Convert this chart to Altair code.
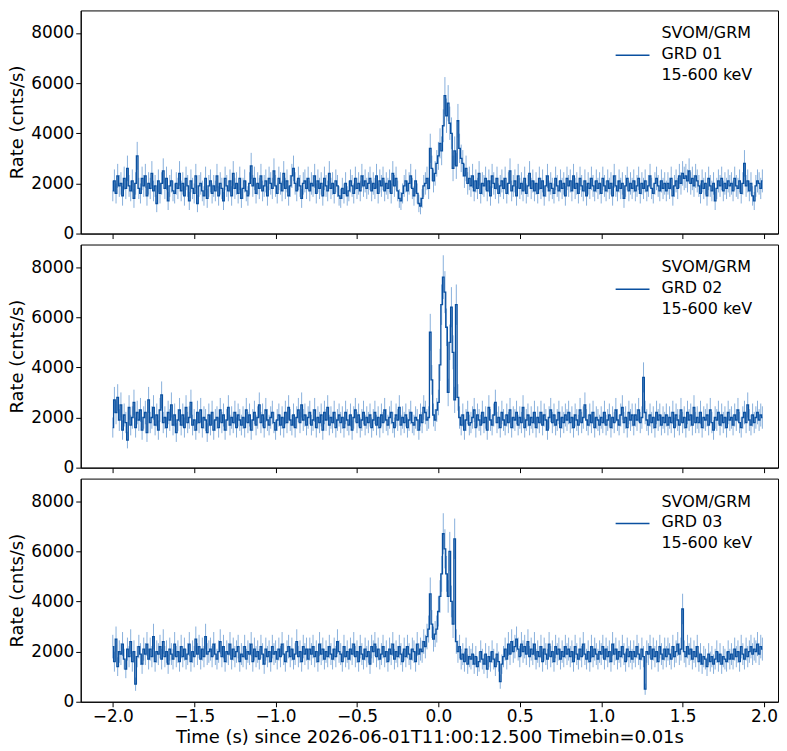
import numpy as np
import pandas as pd
import altair as alt

alt.data_transformers.disable_max_rows()

t0 = -2.0
dt = 0.01

grd01 = [
    1700,2100,1600,2300,1900,2000,1500,2200,1800,2600,1900,1700,2100,1400,2000,3100,1800,1600,2200,1900,
    2300,1500,2000,1800,2400,1700,1900,1200,2100,1600,2000,2500,1800,2200,1300,1900,2100,1700,1600,2000,
    1800,2400,1700,2000,1500,2200,1900,1300,2100,1800,1600,2300,1200,1900,2000,1700,1500,2200,1400,1900,
    2100,1600,1900,1700,2300,1500,2000,1800,1300,2200,1900,1700,2100,1500,2400,1800,2000,1600,2200,1400,
    1800,2100,1700,1500,2000,2700,1900,2200,1600,2000,1800,2300,1700,1900,2100,1500,2200,2000,1800,2500,
    1900,1600,2200,2000,1700,2400,1800,2100,1500,1900,2300,2600,2000,1700,2200,1900,1400,2000,2100,1800,
    2200,1700,2000,1900,2300,1600,2100,1800,2000,1500,2200,1900,1700,2400,1800,2000,1600,2100,1900,1500,
    1400,1800,1600,2000,1500,1700,2100,1900,1600,2200,1800,2000,1700,2300,1900,2100,1800,2000,2200,1700,
    2000,1800,2300,1600,2100,1900,2200,1700,2000,1800,2100,1600,2400,1900,2200,1700,1400,1300,1600,1900,
    2100,1700,2000,2300,1800,1500,2100,1600,1200,1100,1400,1900,2000,2200,1800,3400,2600,2100,2400,2800,
    3100,3600,3300,4300,5500,4700,5200,4400,4000,2600,3300,2700,4500,3400,3000,2800,2300,2600,2000,2200,
    1900,2300,1700,2100,1800,2400,1600,2000,1900,2200,1700,2100,1500,2300,2000,1800,2200,1600,1900,2100,
    1800,2200,1600,2000,2500,1700,1900,2100,1500,2300,1800,2000,1700,2200,1600,1900,2400,1800,2100,1700,
    2000,1600,2200,1800,2100,1500,1900,2300,1700,2000,1800,1600,2200,1900,1700,2100,1800,2000,1500,2200,
    1900,2100,1700,2300,1800,2000,1600,2200,1900,1700,2100,1500,2000,1800,2200,1900,1700,2100,1800,2000,
    1600,2200,1900,1700,2100,1800,2000,1500,2300,1900,1700,2100,1800,2000,1400,1900,2200,1700,2000,1800,
    2100,1700,1900,2200,1600,2000,1800,2100,1700,1900,2300,1800,1600,2000,2200,1900,1700,2100,1800,2000,
    1700,2000,1800,2200,1500,1900,2100,1800,2300,2000,2400,2200,2300,2100,2500,2000,2200,1900,2300,2100,
    1900,1600,2100,1800,2000,1500,2200,1900,1700,2000,1300,1800,2100,1900,2200,1700,2000,1800,2100,1900,
    2000,1700,2200,1900,1800,2100,1600,2000,2800,1900,2100,1700,2000,1500,1300,1900,2100,2000,1800,2100,
]

grd02 = [
    1600,2700,2200,2800,1900,2500,1500,2100,1800,1100,2400,1700,2000,2600,1600,2200,1900,2300,1500,2000,
    2200,1400,2700,1800,2000,2400,1700,2100,1500,2300,2900,1800,2000,1600,2200,1900,2500,1700,2100,1400,
    1900,2300,1700,2100,1600,2400,1800,2000,2600,1700,1900,1500,2200,1800,2300,1600,2000,1900,1400,2100,
    1700,2200,1500,1900,2000,1600,2300,1800,2100,1500,1900,2400,1700,2000,1800,2200,1600,2100,1900,1700,
    2000,1600,2300,1800,2100,1500,1900,2200,1700,2000,2500,1800,2100,1600,2300,1900,1700,2000,2200,1800,
    1500,1900,2100,1700,2000,1600,2200,1800,2400,1900,1700,2100,1600,2000,2300,1800,2500,1900,2100,1700,
    2000,2200,1700,1900,2300,1600,2000,1800,2100,1500,2200,1900,2400,1700,2000,1800,2200,1600,1900,2100,
    1800,2000,1600,2200,1900,1700,2100,1500,2000,2300,1800,2100,1600,1900,2200,1700,2000,1800,2100,1600,
    1900,2200,1700,2000,1600,2100,1800,2300,1900,1700,2000,2200,1800,1600,2100,1900,2400,1700,2000,1800,
    2100,1600,1900,2200,1800,1700,2000,1900,1500,2100,1800,2400,2200,1900,2000,5400,3500,2100,1900,2300,
    2600,4100,6500,7600,7000,5600,3000,5000,6400,4600,2700,6500,2800,2000,1700,2100,1500,1900,2200,1700,
    1800,2000,2300,1600,2100,1900,1700,2200,1800,2000,1500,2400,1900,1700,2100,2600,1800,2000,1600,2200,
    1900,1700,2100,1800,2300,1600,2000,1900,2200,1700,2000,1800,2400,1600,1900,2100,1700,2000,1800,2200,
    1600,2000,1800,2200,1700,2100,1900,1500,2000,2300,1800,2100,1700,1900,2200,1600,2000,1800,2100,1900,
    2200,1800,2000,1600,2100,1900,1700,2300,1800,2000,2500,1900,1700,2100,1800,2200,1600,2000,1900,1700,
    2000,1800,2200,1700,1900,2100,1600,2000,1800,2300,1900,1700,2100,2400,1800,2000,1600,2200,1900,2100,
    1700,2100,1900,2300,1800,2000,3600,2200,1900,1700,2100,1800,2000,1600,2200,1900,2100,1700,2000,1800,
    2100,1700,2000,1800,2200,1600,2100,1900,1700,2300,1800,2000,1600,2200,1900,2100,1700,2400,1800,2000,
    1800,2200,1600,2000,1900,2100,1700,2300,1800,1500,2000,1900,2200,1700,2100,1800,2000,1600,2200,1900,
    2000,1700,2100,1900,2300,1800,1600,2000,2200,1800,2500,1900,1700,2100,1800,2000,2200,1900,2100,2000,
]

grd03 = [
    2200,1600,2500,1400,2000,1900,2300,1700,1300,2100,1800,2400,1600,2000,700,1800,2200,1900,1500,2100,
    1900,2300,1700,2100,1800,2600,1600,2000,1900,2200,1700,2400,1800,2000,1500,2100,1900,1700,2300,1800,
    2000,1600,2200,1800,2100,1700,1900,2300,1600,2000,1800,2500,1900,2200,1700,2100,1800,2600,1900,2000,
    2100,1800,2300,1900,1700,2000,2400,1800,2200,1600,2000,1900,2300,1700,2100,1800,2000,2200,1600,1900,
    1800,2200,1700,2000,1900,2300,1600,2100,1800,2000,1700,2200,1900,1500,2100,1800,2000,1600,2200,1900,
    2000,1700,2100,1800,2300,1900,1600,2000,2200,1800,2100,1700,1900,2400,1800,2000,1600,2200,1900,2100,
    1700,2100,1900,2200,1800,2000,1600,2300,1900,2100,1700,2000,1800,2200,1900,1700,2100,1800,2400,2000,
    1900,1600,2200,1800,2000,1700,2100,1900,2300,1800,2000,1600,2200,1900,1700,2100,1800,2000,1500,2200,
    2000,2300,1800,2100,1700,1900,2200,1800,2000,1600,2100,1900,2300,1700,2000,1800,2200,1900,1600,2100,
    1800,2200,1900,1700,2100,2000,1600,2300,1900,2100,2000,2400,2200,2600,2900,4300,3100,2500,2700,2900,
    3600,4200,5100,6700,6100,5100,4200,6000,4000,3100,6500,2400,2000,2200,1700,1900,1600,2100,1500,1800,
    1700,1900,1500,1800,1400,1600,2000,1700,1500,1900,1300,1800,1600,2000,1700,1400,1900,1600,800,1500,
    1800,2100,1700,2300,1900,2400,2000,2200,2500,2100,1800,2300,2000,2200,1900,2400,1800,2100,1900,2300,
    1700,2000,1800,2200,1600,2100,1900,1700,2300,1800,2000,1600,2200,1900,2100,1700,2000,1800,2200,1900,
    2100,1800,2000,1600,2200,1900,1700,2100,1800,2300,1900,1700,2000,1600,2200,1800,2100,1900,1700,2000,
    1900,2200,1700,2100,1800,2000,1600,2300,1900,2100,1700,2000,1800,2200,1900,1600,2100,1800,2000,1700,
    2000,1800,2200,1900,1700,2100,1800,500,2000,1900,2200,1700,2100,1800,2000,1600,2200,1900,1700,2100,
    1800,2100,1900,1700,2200,1800,2000,2300,1900,2100,3700,2000,1800,2200,1900,2100,1700,2000,1800,2200,
    1600,1900,1500,1800,1700,1400,1900,1600,1800,1500,1700,2000,1600,1900,1500,1800,1700,1600,2000,1700,
    1900,1700,2100,1800,2000,1600,2200,1900,1700,2100,1800,2000,2200,1900,2100,2000,2300,1900,2200,2100,
]

detectors = [("GRD 01", grd01), ("GRD 02", grd02), ("GRD 03", grd03)]

FONT = "DejaVu Sans"
LINE = "#0a50a0"
ERR = "#5f95d0"
W, H = 700, 224


def panel(name, rates, bottom):
    rates = np.array(rates, dtype=float)
    t = t0 + dt * np.arange(len(rates))
    err = np.sqrt(rates * dt) / dt  # Poisson error on rate
    df = pd.DataFrame({"t": t, "rate": rates, "lo": rates - err, "hi": rates + err})

    x = alt.X("t:Q", scale=alt.Scale(domain=[-2.197, 2.086], nice=False),
              axis=alt.Axis(values=[-2.0, -1.5, -1.0, -0.5, 0.0, 0.5, 1.0, 1.5, 2.0],
                            format=".1f", labels=bottom, titlePadding=4,
                            title="Time (s) since 2026-06-01T11:00:12.500 Timebin=0.01s" if bottom else None))
    y_axis = alt.Axis(values=[0, 2000, 4000, 6000, 8000], format="d", title="Rate (cnts/s)")
    yscale = alt.Scale(domain=[0, 8900], nice=False)

    errs = alt.Chart(df).mark_rule(color=ERR, strokeWidth=1, opacity=0.75).encode(
        x=x, y=alt.Y("lo:Q", scale=yscale, axis=y_axis), y2="hi:Q")
    line = alt.Chart(df).mark_line(color=LINE, strokeWidth=1.3, interpolate="step").encode(
        x="t:Q", y="rate:Q")

    leg_line = alt.Chart(pd.DataFrame({"a": [0]})).mark_rule(color=LINE, strokeWidth=1.5).encode(
        x=alt.value(537), x2=alt.value(571), y=alt.value(45))
    leg_text = alt.Chart(pd.DataFrame({"a": [0]})).mark_text(
        align="left", baseline="middle", fontSize=16, font=FONT, lineHeight=21, color="black"
    ).encode(x=alt.value(583), y=alt.value(23),
             text=alt.value(["SVOM/GRM", name, "15-600 keV"]))

    return alt.layer(errs, line, leg_line, leg_text).properties(width=W, height=H)


charts = [panel(n, r, i == 2) for i, (n, r) in enumerate(detectors)]

chart = alt.vconcat(*charts, spacing=1).configure(font=FONT).configure_view(
    stroke="black", strokeWidth=1
).configure_axis(
    grid=False, domainColor="black", tickColor="black", labelColor="black",
    labelFontSize=17, titleFontSize=18, titleFontWeight="normal", titleColor="black",
    labelFont=FONT, titleFont=FONT
).properties(padding={"left": 0, "top": 0, "right": 0, "bottom": 0})

chart.save("out.html", embed_options={"renderer": "svg", "actions": False})
